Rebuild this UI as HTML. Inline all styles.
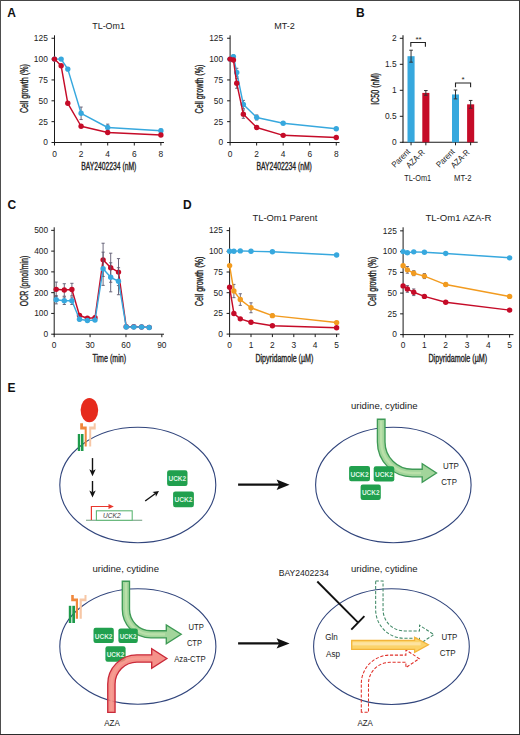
<!DOCTYPE html><html><head><meta charset="utf-8"><style>html,body{margin:0;padding:0;background:#fff;overflow:hidden;width:520px;height:735px;}svg{display:block;}</style></head><body>
<svg width="520" height="735" viewBox="0 0 520 735" style="font-family:'Liberation Sans', sans-serif">
<rect x="0" y="0" width="520" height="735" fill="#fff"/>
<text x="7.30" y="17.30" font-size="12" text-anchor="start" fill="#111" font-weight="bold">A</text>
<text x="356.10" y="17.20" font-size="12" text-anchor="start" fill="#111" font-weight="bold">B</text>
<text x="7.40" y="209.30" font-size="12" text-anchor="start" fill="#111" font-weight="bold">C</text>
<text x="182.90" y="209.20" font-size="12" text-anchor="start" fill="#111" font-weight="bold">D</text>
<text x="7.60" y="391.50" font-size="12" text-anchor="start" fill="#111" font-weight="bold">E</text>
<text x="108.60" y="29.00" font-size="9.4" text-anchor="middle" fill="#222" textLength="32.7" lengthAdjust="spacingAndGlyphs">TL-Om1</text>
<line x1="54.50" y1="35.30" x2="54.50" y2="143.00" stroke="#1a1a1a" stroke-width="1" />
<line x1="54.00" y1="142.50" x2="164.00" y2="142.50" stroke="#1a1a1a" stroke-width="1" />
<line x1="51.50" y1="142.50" x2="54.50" y2="142.50" stroke="#1a1a1a" stroke-width="1" />
<text x="47.80" y="145.39" font-size="8.4" text-anchor="end" fill="#222">0</text>
<line x1="51.50" y1="121.65" x2="54.50" y2="121.65" stroke="#1a1a1a" stroke-width="1" />
<text x="47.80" y="124.54" font-size="8.4" text-anchor="end" fill="#222">25</text>
<line x1="51.50" y1="100.80" x2="54.50" y2="100.80" stroke="#1a1a1a" stroke-width="1" />
<text x="47.80" y="103.69" font-size="8.4" text-anchor="end" fill="#222">50</text>
<line x1="51.50" y1="79.95" x2="54.50" y2="79.95" stroke="#1a1a1a" stroke-width="1" />
<text x="47.80" y="82.84" font-size="8.4" text-anchor="end" fill="#222">75</text>
<line x1="51.50" y1="59.10" x2="54.50" y2="59.10" stroke="#1a1a1a" stroke-width="1" />
<text x="47.80" y="61.99" font-size="8.4" text-anchor="end" fill="#222">100</text>
<line x1="51.50" y1="38.25" x2="54.50" y2="38.25" stroke="#1a1a1a" stroke-width="1" />
<text x="47.80" y="41.14" font-size="8.4" text-anchor="end" fill="#222">125</text>
<line x1="54.50" y1="142.50" x2="54.50" y2="145.50" stroke="#1a1a1a" stroke-width="1" />
<text x="54.50" y="156.59" font-size="8.4" text-anchor="middle" fill="#222">0</text>
<line x1="81.10" y1="142.50" x2="81.10" y2="145.50" stroke="#1a1a1a" stroke-width="1" />
<text x="81.10" y="156.59" font-size="8.4" text-anchor="middle" fill="#222">2</text>
<line x1="107.70" y1="142.50" x2="107.70" y2="145.50" stroke="#1a1a1a" stroke-width="1" />
<text x="107.70" y="156.59" font-size="8.4" text-anchor="middle" fill="#222">4</text>
<line x1="134.30" y1="142.50" x2="134.30" y2="145.50" stroke="#1a1a1a" stroke-width="1" />
<text x="134.30" y="156.59" font-size="8.4" text-anchor="middle" fill="#222">6</text>
<line x1="160.90" y1="142.50" x2="160.90" y2="145.50" stroke="#1a1a1a" stroke-width="1" />
<text x="160.90" y="156.59" font-size="8.4" text-anchor="middle" fill="#222">8</text>
<text transform="translate(27.60,88.60) rotate(-90)" x="0" y="0" font-size="10" text-anchor="middle" fill="#222" stroke="#222" stroke-width="0.35" textLength="49" lengthAdjust="spacingAndGlyphs">Cell growth (%)</text>
<text x="108.75" y="169.50" font-size="10" text-anchor="middle" fill="#222" stroke="#222" stroke-width="0.35" textLength="55.1" lengthAdjust="spacingAndGlyphs">BAY2402234 (nM)</text>
<line x1="67.80" y1="67.44" x2="67.80" y2="70.78" stroke="#5e5a70" stroke-width="0.9" />
<line x1="66.20" y1="67.44" x2="69.40" y2="67.44" stroke="#5e5a70" stroke-width="0.9" />
<line x1="66.20" y1="70.78" x2="69.40" y2="70.78" stroke="#5e5a70" stroke-width="0.9" />
<line x1="81.10" y1="107.06" x2="81.10" y2="119.56" stroke="#5e5a70" stroke-width="0.9" />
<line x1="79.50" y1="107.06" x2="82.70" y2="107.06" stroke="#5e5a70" stroke-width="0.9" />
<line x1="79.50" y1="119.56" x2="82.70" y2="119.56" stroke="#5e5a70" stroke-width="0.9" />
<line x1="107.70" y1="124.15" x2="107.70" y2="130.82" stroke="#5e5a70" stroke-width="0.9" />
<line x1="106.10" y1="124.15" x2="109.30" y2="124.15" stroke="#5e5a70" stroke-width="0.9" />
<line x1="106.10" y1="130.82" x2="109.30" y2="130.82" stroke="#5e5a70" stroke-width="0.9" />
<line x1="160.90" y1="129.16" x2="160.90" y2="132.49" stroke="#5e5a70" stroke-width="0.9" />
<line x1="159.30" y1="129.16" x2="162.50" y2="129.16" stroke="#5e5a70" stroke-width="0.9" />
<line x1="159.30" y1="132.49" x2="162.50" y2="132.49" stroke="#5e5a70" stroke-width="0.9" />
<polyline points="54.50,59.10 61.15,59.10 67.80,69.11 81.10,113.31 107.70,127.49 160.90,130.82" fill="none" stroke="#37a8de" stroke-width="1.45" stroke-linejoin="round"/>
<circle cx="54.50" cy="59.10" r="2.7" fill="#37a8de"/>
<circle cx="61.15" cy="59.10" r="2.7" fill="#37a8de"/>
<circle cx="67.80" cy="69.11" r="2.7" fill="#37a8de"/>
<circle cx="81.10" cy="113.31" r="2.7" fill="#37a8de"/>
<circle cx="107.70" cy="127.49" r="2.7" fill="#37a8de"/>
<circle cx="160.90" cy="130.82" r="2.7" fill="#37a8de"/>
<polyline points="54.50,59.10 61.15,65.77 67.80,103.30 81.10,126.24 107.70,132.49 160.90,134.99" fill="none" stroke="#c50b28" stroke-width="1.45" stroke-linejoin="round"/>
<circle cx="54.50" cy="59.10" r="2.7" fill="#c50b28"/>
<circle cx="61.15" cy="65.77" r="2.7" fill="#c50b28"/>
<circle cx="67.80" cy="103.30" r="2.7" fill="#c50b28"/>
<circle cx="81.10" cy="126.24" r="2.7" fill="#c50b28"/>
<circle cx="107.70" cy="132.49" r="2.7" fill="#c50b28"/>
<circle cx="160.90" cy="134.99" r="2.7" fill="#c50b28"/>
<text x="284.50" y="29.10" font-size="9.4" text-anchor="middle" fill="#222" textLength="20.6" lengthAdjust="spacingAndGlyphs">MT-2</text>
<line x1="230.10" y1="35.30" x2="230.10" y2="143.00" stroke="#1a1a1a" stroke-width="1" />
<line x1="229.60" y1="142.50" x2="339.50" y2="142.50" stroke="#1a1a1a" stroke-width="1" />
<line x1="227.10" y1="142.50" x2="230.10" y2="142.50" stroke="#1a1a1a" stroke-width="1" />
<text x="223.20" y="145.39" font-size="8.4" text-anchor="end" fill="#222">0</text>
<line x1="227.10" y1="121.65" x2="230.10" y2="121.65" stroke="#1a1a1a" stroke-width="1" />
<text x="223.20" y="124.54" font-size="8.4" text-anchor="end" fill="#222">25</text>
<line x1="227.10" y1="100.80" x2="230.10" y2="100.80" stroke="#1a1a1a" stroke-width="1" />
<text x="223.20" y="103.69" font-size="8.4" text-anchor="end" fill="#222">50</text>
<line x1="227.10" y1="79.95" x2="230.10" y2="79.95" stroke="#1a1a1a" stroke-width="1" />
<text x="223.20" y="82.84" font-size="8.4" text-anchor="end" fill="#222">75</text>
<line x1="227.10" y1="59.10" x2="230.10" y2="59.10" stroke="#1a1a1a" stroke-width="1" />
<text x="223.20" y="61.99" font-size="8.4" text-anchor="end" fill="#222">100</text>
<line x1="227.10" y1="38.25" x2="230.10" y2="38.25" stroke="#1a1a1a" stroke-width="1" />
<text x="223.20" y="41.14" font-size="8.4" text-anchor="end" fill="#222">125</text>
<line x1="230.10" y1="142.50" x2="230.10" y2="145.50" stroke="#1a1a1a" stroke-width="1" />
<text x="230.10" y="156.59" font-size="8.4" text-anchor="middle" fill="#222">0</text>
<line x1="256.64" y1="142.50" x2="256.64" y2="145.50" stroke="#1a1a1a" stroke-width="1" />
<text x="256.64" y="156.59" font-size="8.4" text-anchor="middle" fill="#222">2</text>
<line x1="283.18" y1="142.50" x2="283.18" y2="145.50" stroke="#1a1a1a" stroke-width="1" />
<text x="283.18" y="156.59" font-size="8.4" text-anchor="middle" fill="#222">4</text>
<line x1="309.72" y1="142.50" x2="309.72" y2="145.50" stroke="#1a1a1a" stroke-width="1" />
<text x="309.72" y="156.59" font-size="8.4" text-anchor="middle" fill="#222">6</text>
<line x1="336.26" y1="142.50" x2="336.26" y2="145.50" stroke="#1a1a1a" stroke-width="1" />
<text x="336.26" y="156.59" font-size="8.4" text-anchor="middle" fill="#222">8</text>
<text transform="translate(202.70,89.00) rotate(-90)" x="0" y="0" font-size="10" text-anchor="middle" fill="#222" stroke="#222" stroke-width="0.35" textLength="49" lengthAdjust="spacingAndGlyphs">Cell growth (%)</text>
<text x="284.20" y="169.50" font-size="10" text-anchor="middle" fill="#222" stroke="#222" stroke-width="0.35" textLength="55.3" lengthAdjust="spacingAndGlyphs">BAY2402234 (nM)</text>
<line x1="233.42" y1="54.93" x2="233.42" y2="58.27" stroke="#5e5a70" stroke-width="0.9" />
<line x1="231.82" y1="54.93" x2="235.02" y2="54.93" stroke="#5e5a70" stroke-width="0.9" />
<line x1="231.82" y1="58.27" x2="235.02" y2="58.27" stroke="#5e5a70" stroke-width="0.9" />
<line x1="236.73" y1="68.27" x2="236.73" y2="76.61" stroke="#5e5a70" stroke-width="0.9" />
<line x1="235.13" y1="68.27" x2="238.33" y2="68.27" stroke="#5e5a70" stroke-width="0.9" />
<line x1="235.13" y1="76.61" x2="238.33" y2="76.61" stroke="#5e5a70" stroke-width="0.9" />
<line x1="243.37" y1="100.38" x2="243.37" y2="108.72" stroke="#5e5a70" stroke-width="0.9" />
<line x1="241.77" y1="100.38" x2="244.97" y2="100.38" stroke="#5e5a70" stroke-width="0.9" />
<line x1="241.77" y1="108.72" x2="244.97" y2="108.72" stroke="#5e5a70" stroke-width="0.9" />
<line x1="256.64" y1="114.98" x2="256.64" y2="119.98" stroke="#5e5a70" stroke-width="0.9" />
<line x1="255.04" y1="114.98" x2="258.24" y2="114.98" stroke="#5e5a70" stroke-width="0.9" />
<line x1="255.04" y1="119.98" x2="258.24" y2="119.98" stroke="#5e5a70" stroke-width="0.9" />
<line x1="283.18" y1="122.07" x2="283.18" y2="124.57" stroke="#5e5a70" stroke-width="0.9" />
<line x1="281.58" y1="122.07" x2="284.78" y2="122.07" stroke="#5e5a70" stroke-width="0.9" />
<line x1="281.58" y1="124.57" x2="284.78" y2="124.57" stroke="#5e5a70" stroke-width="0.9" />
<line x1="336.26" y1="127.49" x2="336.26" y2="129.99" stroke="#5e5a70" stroke-width="0.9" />
<line x1="334.66" y1="127.49" x2="337.86" y2="127.49" stroke="#5e5a70" stroke-width="0.9" />
<line x1="334.66" y1="129.99" x2="337.86" y2="129.99" stroke="#5e5a70" stroke-width="0.9" />
<polyline points="230.10,59.10 233.42,56.60 236.73,72.44 243.37,104.55 256.64,117.48 283.18,123.32 336.26,128.74" fill="none" stroke="#37a8de" stroke-width="1.45" stroke-linejoin="round"/>
<circle cx="230.10" cy="59.10" r="2.7" fill="#37a8de"/>
<circle cx="233.42" cy="56.60" r="2.7" fill="#37a8de"/>
<circle cx="236.73" cy="72.44" r="2.7" fill="#37a8de"/>
<circle cx="243.37" cy="104.55" r="2.7" fill="#37a8de"/>
<circle cx="256.64" cy="117.48" r="2.7" fill="#37a8de"/>
<circle cx="283.18" cy="123.32" r="2.7" fill="#37a8de"/>
<circle cx="336.26" cy="128.74" r="2.7" fill="#37a8de"/>
<line x1="233.42" y1="58.27" x2="233.42" y2="61.60" stroke="#5e5a70" stroke-width="0.9" />
<line x1="231.82" y1="58.27" x2="235.02" y2="58.27" stroke="#5e5a70" stroke-width="0.9" />
<line x1="231.82" y1="61.60" x2="235.02" y2="61.60" stroke="#5e5a70" stroke-width="0.9" />
<line x1="236.73" y1="78.28" x2="236.73" y2="88.29" stroke="#5e5a70" stroke-width="0.9" />
<line x1="235.13" y1="78.28" x2="238.33" y2="78.28" stroke="#5e5a70" stroke-width="0.9" />
<line x1="235.13" y1="88.29" x2="238.33" y2="88.29" stroke="#5e5a70" stroke-width="0.9" />
<line x1="243.37" y1="109.97" x2="243.37" y2="118.31" stroke="#5e5a70" stroke-width="0.9" />
<line x1="241.77" y1="109.97" x2="244.97" y2="109.97" stroke="#5e5a70" stroke-width="0.9" />
<line x1="241.77" y1="118.31" x2="244.97" y2="118.31" stroke="#5e5a70" stroke-width="0.9" />
<line x1="256.64" y1="125.82" x2="256.64" y2="129.16" stroke="#5e5a70" stroke-width="0.9" />
<line x1="255.04" y1="125.82" x2="258.24" y2="125.82" stroke="#5e5a70" stroke-width="0.9" />
<line x1="255.04" y1="129.16" x2="258.24" y2="129.16" stroke="#5e5a70" stroke-width="0.9" />
<line x1="283.18" y1="134.49" x2="283.18" y2="136.16" stroke="#5e5a70" stroke-width="0.9" />
<line x1="281.58" y1="134.49" x2="284.78" y2="134.49" stroke="#5e5a70" stroke-width="0.9" />
<line x1="281.58" y1="136.16" x2="284.78" y2="136.16" stroke="#5e5a70" stroke-width="0.9" />
<line x1="336.26" y1="136.66" x2="336.26" y2="138.33" stroke="#5e5a70" stroke-width="0.9" />
<line x1="334.66" y1="136.66" x2="337.86" y2="136.66" stroke="#5e5a70" stroke-width="0.9" />
<line x1="334.66" y1="138.33" x2="337.86" y2="138.33" stroke="#5e5a70" stroke-width="0.9" />
<polyline points="230.10,59.10 233.42,59.93 236.73,83.29 243.37,114.14 256.64,127.49 283.18,135.33 336.26,137.50" fill="none" stroke="#c50b28" stroke-width="1.45" stroke-linejoin="round"/>
<circle cx="230.10" cy="59.10" r="2.7" fill="#c50b28"/>
<circle cx="233.42" cy="59.93" r="2.7" fill="#c50b28"/>
<circle cx="236.73" cy="83.29" r="2.7" fill="#c50b28"/>
<circle cx="243.37" cy="114.14" r="2.7" fill="#c50b28"/>
<circle cx="256.64" cy="127.49" r="2.7" fill="#c50b28"/>
<circle cx="283.18" cy="135.33" r="2.7" fill="#c50b28"/>
<circle cx="336.26" cy="137.50" r="2.7" fill="#c50b28"/>
<line x1="403.00" y1="35.30" x2="403.00" y2="142.80" stroke="#1a1a1a" stroke-width="1.1" />
<line x1="402.50" y1="142.30" x2="477.70" y2="142.30" stroke="#1a1a1a" stroke-width="1.1" />
<line x1="399.80" y1="142.30" x2="403.00" y2="142.30" stroke="#1a1a1a" stroke-width="1" />
<text x="396.60" y="145.19" font-size="8.4" text-anchor="end" fill="#222">0</text>
<line x1="399.80" y1="116.30" x2="403.00" y2="116.30" stroke="#1a1a1a" stroke-width="1" />
<text x="396.60" y="119.19" font-size="8.4" text-anchor="end" fill="#222">0.5</text>
<line x1="399.80" y1="90.30" x2="403.00" y2="90.30" stroke="#1a1a1a" stroke-width="1" />
<text x="396.60" y="93.19" font-size="8.4" text-anchor="end" fill="#222">1</text>
<line x1="399.80" y1="64.30" x2="403.00" y2="64.30" stroke="#1a1a1a" stroke-width="1" />
<text x="396.60" y="67.19" font-size="8.4" text-anchor="end" fill="#222">1.5</text>
<line x1="399.80" y1="38.30" x2="403.00" y2="38.30" stroke="#1a1a1a" stroke-width="1" />
<text x="396.60" y="41.19" font-size="8.4" text-anchor="end" fill="#222">2</text>
<rect x="407.5" y="56.19" width="7.10" height="86.11" fill="#37a8de"/>
<line x1="411.05" y1="50.21" x2="411.05" y2="62.17" stroke="#333" stroke-width="1" />
<line x1="409.25" y1="50.21" x2="412.85" y2="50.21" stroke="#333" stroke-width="1" />
<line x1="409.25" y1="62.17" x2="412.85" y2="62.17" stroke="#333" stroke-width="1" />
<line x1="411.05" y1="142.30" x2="411.05" y2="145.30" stroke="#1a1a1a" stroke-width="1" />
<rect x="422.3" y="92.90" width="7.10" height="49.40" fill="#c50b28"/>
<line x1="425.85" y1="90.56" x2="425.85" y2="95.24" stroke="#333" stroke-width="1" />
<line x1="424.05" y1="90.56" x2="427.65" y2="90.56" stroke="#333" stroke-width="1" />
<line x1="424.05" y1="95.24" x2="427.65" y2="95.24" stroke="#333" stroke-width="1" />
<line x1="425.85" y1="142.30" x2="425.85" y2="145.30" stroke="#1a1a1a" stroke-width="1" />
<rect x="452" y="94.46" width="7.00" height="47.84" fill="#37a8de"/>
<line x1="455.50" y1="90.04" x2="455.50" y2="98.88" stroke="#333" stroke-width="1" />
<line x1="453.70" y1="90.04" x2="457.30" y2="90.04" stroke="#333" stroke-width="1" />
<line x1="453.70" y1="98.88" x2="457.30" y2="98.88" stroke="#333" stroke-width="1" />
<line x1="455.50" y1="142.30" x2="455.50" y2="145.30" stroke="#1a1a1a" stroke-width="1" />
<rect x="467.1" y="104.34" width="7.10" height="37.96" fill="#c50b28"/>
<line x1="470.65" y1="100.44" x2="470.65" y2="108.24" stroke="#333" stroke-width="1" />
<line x1="468.85" y1="100.44" x2="472.45" y2="100.44" stroke="#333" stroke-width="1" />
<line x1="468.85" y1="108.24" x2="472.45" y2="108.24" stroke="#333" stroke-width="1" />
<line x1="470.65" y1="142.30" x2="470.65" y2="145.30" stroke="#1a1a1a" stroke-width="1" />
<polyline points="410.8,46.8 410.8,42.5 425.4,42.5 425.4,46.8" fill="none" stroke="#222" stroke-width="1.1"/>
<text x="418.50" y="42.05" font-size="8" text-anchor="middle" fill="#222">**</text>
<polyline points="455.5,87.2 455.5,83 470.6,83 470.6,87.2" fill="none" stroke="#222" stroke-width="1.1"/>
<text x="463.00" y="82.15" font-size="8" text-anchor="middle" fill="#222">*</text>
<text transform="translate(379.20,88.90) rotate(-90)" x="0" y="0" font-size="10" text-anchor="middle" fill="#222" stroke="#222" stroke-width="0.35" textLength="31.8" lengthAdjust="spacingAndGlyphs">IC50 (nM)</text>
<text transform="translate(408.6,150.2) rotate(-45)" x="0" y="2.9" font-size="8.5" text-anchor="end" fill="#222" textLength="22.3" lengthAdjust="spacingAndGlyphs">Parent</text>
<text transform="translate(423.3,150.9) rotate(-45)" x="0" y="2.9" font-size="8.5" text-anchor="end" fill="#222" textLength="22.3" lengthAdjust="spacingAndGlyphs">AZA-R</text>
<text transform="translate(453.1,150.2) rotate(-45)" x="0" y="2.9" font-size="8.5" text-anchor="end" fill="#222" textLength="22.3" lengthAdjust="spacingAndGlyphs">Parent</text>
<text transform="translate(468,150.9) rotate(-45)" x="0" y="2.9" font-size="8.5" text-anchor="end" fill="#222" textLength="22.3" lengthAdjust="spacingAndGlyphs">AZA-R</text>
<text x="417.70" y="180.90" font-size="8.6" text-anchor="middle" fill="#222" textLength="27" lengthAdjust="spacingAndGlyphs">TL-Om1</text>
<text x="462.85" y="180.80" font-size="8.6" text-anchor="middle" fill="#222" textLength="17.5" lengthAdjust="spacingAndGlyphs">MT-2</text>
<line x1="54.20" y1="227.30" x2="54.20" y2="334.70" stroke="#1a1a1a" stroke-width="1" />
<line x1="53.70" y1="334.20" x2="164.00" y2="334.20" stroke="#1a1a1a" stroke-width="1" />
<line x1="51.20" y1="334.20" x2="54.20" y2="334.20" stroke="#1a1a1a" stroke-width="1" />
<text x="48.20" y="337.09" font-size="8.4" text-anchor="end" fill="#222">0</text>
<line x1="51.20" y1="313.43" x2="54.20" y2="313.43" stroke="#1a1a1a" stroke-width="1" />
<text x="48.20" y="316.32" font-size="8.4" text-anchor="end" fill="#222">100</text>
<line x1="51.20" y1="292.66" x2="54.20" y2="292.66" stroke="#1a1a1a" stroke-width="1" />
<text x="48.20" y="295.55" font-size="8.4" text-anchor="end" fill="#222">200</text>
<line x1="51.20" y1="271.89" x2="54.20" y2="271.89" stroke="#1a1a1a" stroke-width="1" />
<text x="48.20" y="274.78" font-size="8.4" text-anchor="end" fill="#222">300</text>
<line x1="51.20" y1="251.12" x2="54.20" y2="251.12" stroke="#1a1a1a" stroke-width="1" />
<text x="48.20" y="254.01" font-size="8.4" text-anchor="end" fill="#222">400</text>
<line x1="51.20" y1="230.35" x2="54.20" y2="230.35" stroke="#1a1a1a" stroke-width="1" />
<text x="48.20" y="233.24" font-size="8.4" text-anchor="end" fill="#222">500</text>
<line x1="54.20" y1="334.20" x2="54.20" y2="337.20" stroke="#1a1a1a" stroke-width="1" />
<text x="54.20" y="347.79" font-size="8.4" text-anchor="middle" fill="#222">0</text>
<line x1="90.08" y1="334.20" x2="90.08" y2="337.20" stroke="#1a1a1a" stroke-width="1" />
<text x="90.08" y="347.79" font-size="8.4" text-anchor="middle" fill="#222">30</text>
<line x1="125.96" y1="334.20" x2="125.96" y2="337.20" stroke="#1a1a1a" stroke-width="1" />
<text x="125.96" y="347.79" font-size="8.4" text-anchor="middle" fill="#222">60</text>
<line x1="161.84" y1="334.20" x2="161.84" y2="337.20" stroke="#1a1a1a" stroke-width="1" />
<text x="161.84" y="347.79" font-size="8.4" text-anchor="middle" fill="#222">90</text>
<text transform="translate(27.80,281.00) rotate(-90)" x="0" y="0" font-size="10" text-anchor="middle" fill="#222" stroke="#222" stroke-width="0.35" textLength="50.6" lengthAdjust="spacingAndGlyphs">OCR (pmol/min)</text>
<text x="109.25" y="362.00" font-size="10" text-anchor="middle" fill="#222" stroke="#222" stroke-width="0.35" textLength="33.5" lengthAdjust="spacingAndGlyphs">Time (min)</text>
<line x1="56.20" y1="282.07" x2="56.20" y2="296.61" stroke="#5e5a70" stroke-width="0.9" />
<line x1="54.60" y1="282.07" x2="57.80" y2="282.07" stroke="#5e5a70" stroke-width="0.9" />
<line x1="54.60" y1="296.61" x2="57.80" y2="296.61" stroke="#5e5a70" stroke-width="0.9" />
<line x1="64.30" y1="283.73" x2="64.30" y2="296.19" stroke="#5e5a70" stroke-width="0.9" />
<line x1="62.70" y1="283.73" x2="65.90" y2="283.73" stroke="#5e5a70" stroke-width="0.9" />
<line x1="62.70" y1="296.19" x2="65.90" y2="296.19" stroke="#5e5a70" stroke-width="0.9" />
<line x1="71.90" y1="283.31" x2="71.90" y2="295.78" stroke="#5e5a70" stroke-width="0.9" />
<line x1="70.30" y1="283.31" x2="73.50" y2="283.31" stroke="#5e5a70" stroke-width="0.9" />
<line x1="70.30" y1="295.78" x2="73.50" y2="295.78" stroke="#5e5a70" stroke-width="0.9" />
<line x1="79.50" y1="313.85" x2="79.50" y2="317.17" stroke="#5e5a70" stroke-width="0.9" />
<line x1="77.90" y1="313.85" x2="81.10" y2="313.85" stroke="#5e5a70" stroke-width="0.9" />
<line x1="77.90" y1="317.17" x2="81.10" y2="317.17" stroke="#5e5a70" stroke-width="0.9" />
<line x1="87.40" y1="317.17" x2="87.40" y2="319.25" stroke="#5e5a70" stroke-width="0.9" />
<line x1="85.80" y1="317.17" x2="89.00" y2="317.17" stroke="#5e5a70" stroke-width="0.9" />
<line x1="85.80" y1="319.25" x2="89.00" y2="319.25" stroke="#5e5a70" stroke-width="0.9" />
<line x1="95.00" y1="316.75" x2="95.00" y2="318.83" stroke="#5e5a70" stroke-width="0.9" />
<line x1="93.40" y1="316.75" x2="96.60" y2="316.75" stroke="#5e5a70" stroke-width="0.9" />
<line x1="93.40" y1="318.83" x2="96.60" y2="318.83" stroke="#5e5a70" stroke-width="0.9" />
<line x1="103.10" y1="243.23" x2="103.10" y2="276.46" stroke="#5e5a70" stroke-width="0.9" />
<line x1="101.50" y1="243.23" x2="104.70" y2="243.23" stroke="#5e5a70" stroke-width="0.9" />
<line x1="101.50" y1="276.46" x2="104.70" y2="276.46" stroke="#5e5a70" stroke-width="0.9" />
<line x1="110.70" y1="253.20" x2="110.70" y2="282.27" stroke="#5e5a70" stroke-width="0.9" />
<line x1="109.10" y1="253.20" x2="112.30" y2="253.20" stroke="#5e5a70" stroke-width="0.9" />
<line x1="109.10" y1="282.27" x2="112.30" y2="282.27" stroke="#5e5a70" stroke-width="0.9" />
<line x1="118.50" y1="258.60" x2="118.50" y2="285.60" stroke="#5e5a70" stroke-width="0.9" />
<line x1="116.90" y1="258.60" x2="120.10" y2="258.60" stroke="#5e5a70" stroke-width="0.9" />
<line x1="116.90" y1="285.60" x2="120.10" y2="285.60" stroke="#5e5a70" stroke-width="0.9" />
<line x1="126.20" y1="325.68" x2="126.20" y2="327.76" stroke="#5e5a70" stroke-width="0.9" />
<line x1="124.60" y1="325.68" x2="127.80" y2="325.68" stroke="#5e5a70" stroke-width="0.9" />
<line x1="124.60" y1="327.76" x2="127.80" y2="327.76" stroke="#5e5a70" stroke-width="0.9" />
<line x1="133.80" y1="325.68" x2="133.80" y2="327.76" stroke="#5e5a70" stroke-width="0.9" />
<line x1="132.20" y1="325.68" x2="135.40" y2="325.68" stroke="#5e5a70" stroke-width="0.9" />
<line x1="132.20" y1="327.76" x2="135.40" y2="327.76" stroke="#5e5a70" stroke-width="0.9" />
<line x1="141.60" y1="325.89" x2="141.60" y2="327.97" stroke="#5e5a70" stroke-width="0.9" />
<line x1="140.00" y1="325.89" x2="143.20" y2="325.89" stroke="#5e5a70" stroke-width="0.9" />
<line x1="140.00" y1="327.97" x2="143.20" y2="327.97" stroke="#5e5a70" stroke-width="0.9" />
<line x1="149.20" y1="326.31" x2="149.20" y2="328.38" stroke="#5e5a70" stroke-width="0.9" />
<line x1="147.60" y1="326.31" x2="150.80" y2="326.31" stroke="#5e5a70" stroke-width="0.9" />
<line x1="147.60" y1="328.38" x2="150.80" y2="328.38" stroke="#5e5a70" stroke-width="0.9" />
<polyline points="56.20,289.34 64.30,289.96 71.90,289.54 79.50,315.51 87.40,318.21 95.00,317.79 103.10,259.84 110.70,267.74 118.50,272.10 126.20,326.72 133.80,326.72 141.60,326.93 149.20,327.35" fill="none" stroke="#c50b28" stroke-width="1.45" stroke-linejoin="round"/>
<circle cx="56.20" cy="289.34" r="2.7" fill="#c50b28"/>
<circle cx="64.30" cy="289.96" r="2.7" fill="#c50b28"/>
<circle cx="71.90" cy="289.54" r="2.7" fill="#c50b28"/>
<circle cx="79.50" cy="315.51" r="2.7" fill="#c50b28"/>
<circle cx="87.40" cy="318.21" r="2.7" fill="#c50b28"/>
<circle cx="95.00" cy="317.79" r="2.7" fill="#c50b28"/>
<circle cx="103.10" cy="259.84" r="2.7" fill="#c50b28"/>
<circle cx="110.70" cy="267.74" r="2.7" fill="#c50b28"/>
<circle cx="118.50" cy="272.10" r="2.7" fill="#c50b28"/>
<circle cx="126.20" cy="326.72" r="2.7" fill="#c50b28"/>
<circle cx="133.80" cy="326.72" r="2.7" fill="#c50b28"/>
<circle cx="141.60" cy="326.93" r="2.7" fill="#c50b28"/>
<circle cx="149.20" cy="327.35" r="2.7" fill="#c50b28"/>
<line x1="56.20" y1="295.57" x2="56.20" y2="303.88" stroke="#5e5a70" stroke-width="0.9" />
<line x1="54.60" y1="295.57" x2="57.80" y2="295.57" stroke="#5e5a70" stroke-width="0.9" />
<line x1="54.60" y1="303.88" x2="57.80" y2="303.88" stroke="#5e5a70" stroke-width="0.9" />
<line x1="64.30" y1="297.02" x2="64.30" y2="304.50" stroke="#5e5a70" stroke-width="0.9" />
<line x1="62.70" y1="297.02" x2="65.90" y2="297.02" stroke="#5e5a70" stroke-width="0.9" />
<line x1="62.70" y1="304.50" x2="65.90" y2="304.50" stroke="#5e5a70" stroke-width="0.9" />
<line x1="71.90" y1="297.02" x2="71.90" y2="304.50" stroke="#5e5a70" stroke-width="0.9" />
<line x1="70.30" y1="297.02" x2="73.50" y2="297.02" stroke="#5e5a70" stroke-width="0.9" />
<line x1="70.30" y1="304.50" x2="73.50" y2="304.50" stroke="#5e5a70" stroke-width="0.9" />
<line x1="79.50" y1="317.58" x2="79.50" y2="320.91" stroke="#5e5a70" stroke-width="0.9" />
<line x1="77.90" y1="317.58" x2="81.10" y2="317.58" stroke="#5e5a70" stroke-width="0.9" />
<line x1="77.90" y1="320.91" x2="81.10" y2="320.91" stroke="#5e5a70" stroke-width="0.9" />
<line x1="87.40" y1="319.45" x2="87.40" y2="321.53" stroke="#5e5a70" stroke-width="0.9" />
<line x1="85.80" y1="319.45" x2="89.00" y2="319.45" stroke="#5e5a70" stroke-width="0.9" />
<line x1="85.80" y1="321.53" x2="89.00" y2="321.53" stroke="#5e5a70" stroke-width="0.9" />
<line x1="95.00" y1="319.04" x2="95.00" y2="321.11" stroke="#5e5a70" stroke-width="0.9" />
<line x1="93.40" y1="319.04" x2="96.60" y2="319.04" stroke="#5e5a70" stroke-width="0.9" />
<line x1="93.40" y1="321.11" x2="96.60" y2="321.11" stroke="#5e5a70" stroke-width="0.9" />
<line x1="103.10" y1="252.16" x2="103.10" y2="285.39" stroke="#5e5a70" stroke-width="0.9" />
<line x1="101.50" y1="252.16" x2="104.70" y2="252.16" stroke="#5e5a70" stroke-width="0.9" />
<line x1="101.50" y1="285.39" x2="104.70" y2="285.39" stroke="#5e5a70" stroke-width="0.9" />
<line x1="110.70" y1="262.75" x2="110.70" y2="291.83" stroke="#5e5a70" stroke-width="0.9" />
<line x1="109.10" y1="262.75" x2="112.30" y2="262.75" stroke="#5e5a70" stroke-width="0.9" />
<line x1="109.10" y1="291.83" x2="112.30" y2="291.83" stroke="#5e5a70" stroke-width="0.9" />
<line x1="118.50" y1="267.74" x2="118.50" y2="294.74" stroke="#5e5a70" stroke-width="0.9" />
<line x1="116.90" y1="267.74" x2="120.10" y2="267.74" stroke="#5e5a70" stroke-width="0.9" />
<line x1="116.90" y1="294.74" x2="120.10" y2="294.74" stroke="#5e5a70" stroke-width="0.9" />
<line x1="126.20" y1="325.89" x2="126.20" y2="327.97" stroke="#5e5a70" stroke-width="0.9" />
<line x1="124.60" y1="325.89" x2="127.80" y2="325.89" stroke="#5e5a70" stroke-width="0.9" />
<line x1="124.60" y1="327.97" x2="127.80" y2="327.97" stroke="#5e5a70" stroke-width="0.9" />
<line x1="133.80" y1="325.89" x2="133.80" y2="327.97" stroke="#5e5a70" stroke-width="0.9" />
<line x1="132.20" y1="325.89" x2="135.40" y2="325.89" stroke="#5e5a70" stroke-width="0.9" />
<line x1="132.20" y1="327.97" x2="135.40" y2="327.97" stroke="#5e5a70" stroke-width="0.9" />
<line x1="141.60" y1="325.89" x2="141.60" y2="327.97" stroke="#5e5a70" stroke-width="0.9" />
<line x1="140.00" y1="325.89" x2="143.20" y2="325.89" stroke="#5e5a70" stroke-width="0.9" />
<line x1="140.00" y1="327.97" x2="143.20" y2="327.97" stroke="#5e5a70" stroke-width="0.9" />
<line x1="149.20" y1="326.52" x2="149.20" y2="328.59" stroke="#5e5a70" stroke-width="0.9" />
<line x1="147.60" y1="326.52" x2="150.80" y2="326.52" stroke="#5e5a70" stroke-width="0.9" />
<line x1="147.60" y1="328.59" x2="150.80" y2="328.59" stroke="#5e5a70" stroke-width="0.9" />
<polyline points="56.20,299.72 64.30,300.76 71.90,300.76 79.50,319.25 87.40,320.49 95.00,320.08 103.10,268.77 110.70,277.29 118.50,281.24 126.20,326.93 133.80,326.93 141.60,326.93 149.20,327.55" fill="none" stroke="#37a8de" stroke-width="1.45" stroke-linejoin="round"/>
<circle cx="56.20" cy="299.72" r="2.7" fill="#37a8de"/>
<circle cx="64.30" cy="300.76" r="2.7" fill="#37a8de"/>
<circle cx="71.90" cy="300.76" r="2.7" fill="#37a8de"/>
<circle cx="79.50" cy="319.25" r="2.7" fill="#37a8de"/>
<circle cx="87.40" cy="320.49" r="2.7" fill="#37a8de"/>
<circle cx="95.00" cy="320.08" r="2.7" fill="#37a8de"/>
<circle cx="103.10" cy="268.77" r="2.7" fill="#37a8de"/>
<circle cx="110.70" cy="277.29" r="2.7" fill="#37a8de"/>
<circle cx="118.50" cy="281.24" r="2.7" fill="#37a8de"/>
<circle cx="126.20" cy="326.93" r="2.7" fill="#37a8de"/>
<circle cx="133.80" cy="326.93" r="2.7" fill="#37a8de"/>
<circle cx="141.60" cy="326.93" r="2.7" fill="#37a8de"/>
<circle cx="149.20" cy="327.55" r="2.7" fill="#37a8de"/>
<text x="284.85" y="221.00" font-size="9.6" text-anchor="middle" fill="#222" textLength="64.9" lengthAdjust="spacingAndGlyphs">TL-Om1 Parent</text>
<line x1="229.60" y1="227.30" x2="229.60" y2="334.60" stroke="#1a1a1a" stroke-width="1" />
<line x1="229.10" y1="334.10" x2="339.50" y2="334.10" stroke="#1a1a1a" stroke-width="1" />
<line x1="226.60" y1="334.10" x2="229.60" y2="334.10" stroke="#1a1a1a" stroke-width="1" />
<text x="222.90" y="336.99" font-size="8.4" text-anchor="end" fill="#222">0</text>
<line x1="226.60" y1="313.40" x2="229.60" y2="313.40" stroke="#1a1a1a" stroke-width="1" />
<text x="222.90" y="316.29" font-size="8.4" text-anchor="end" fill="#222">25</text>
<line x1="226.60" y1="292.70" x2="229.60" y2="292.70" stroke="#1a1a1a" stroke-width="1" />
<text x="222.90" y="295.59" font-size="8.4" text-anchor="end" fill="#222">50</text>
<line x1="226.60" y1="272.00" x2="229.60" y2="272.00" stroke="#1a1a1a" stroke-width="1" />
<text x="222.90" y="274.89" font-size="8.4" text-anchor="end" fill="#222">75</text>
<line x1="226.60" y1="251.30" x2="229.60" y2="251.30" stroke="#1a1a1a" stroke-width="1" />
<text x="222.90" y="254.19" font-size="8.4" text-anchor="end" fill="#222">100</text>
<line x1="226.60" y1="230.60" x2="229.60" y2="230.60" stroke="#1a1a1a" stroke-width="1" />
<text x="222.90" y="233.49" font-size="8.4" text-anchor="end" fill="#222">125</text>
<line x1="229.60" y1="334.10" x2="229.60" y2="337.10" stroke="#1a1a1a" stroke-width="1" />
<text x="229.60" y="347.79" font-size="8.4" text-anchor="middle" fill="#222">0</text>
<line x1="251.00" y1="334.10" x2="251.00" y2="337.10" stroke="#1a1a1a" stroke-width="1" />
<text x="251.00" y="347.79" font-size="8.4" text-anchor="middle" fill="#222">1</text>
<line x1="272.40" y1="334.10" x2="272.40" y2="337.10" stroke="#1a1a1a" stroke-width="1" />
<text x="272.40" y="347.79" font-size="8.4" text-anchor="middle" fill="#222">2</text>
<line x1="293.80" y1="334.10" x2="293.80" y2="337.10" stroke="#1a1a1a" stroke-width="1" />
<text x="293.80" y="347.79" font-size="8.4" text-anchor="middle" fill="#222">3</text>
<line x1="315.20" y1="334.10" x2="315.20" y2="337.10" stroke="#1a1a1a" stroke-width="1" />
<text x="315.20" y="347.79" font-size="8.4" text-anchor="middle" fill="#222">4</text>
<line x1="336.60" y1="334.10" x2="336.60" y2="337.10" stroke="#1a1a1a" stroke-width="1" />
<text x="336.60" y="347.79" font-size="8.4" text-anchor="middle" fill="#222">5</text>
<text transform="translate(202.80,281.40) rotate(-90)" x="0" y="0" font-size="10" text-anchor="middle" fill="#222" stroke="#222" stroke-width="0.35" textLength="49.8" lengthAdjust="spacingAndGlyphs">Cell growth (%)</text>
<text x="284.35" y="362.10" font-size="10" text-anchor="middle" fill="#222" stroke="#222" stroke-width="0.35" textLength="57.9" lengthAdjust="spacingAndGlyphs">Dipyridamole (µM)</text>
<polyline points="229.60,251.30 233.88,251.30 240.30,250.89 251.00,251.30 272.40,251.71 336.60,255.03" fill="none" stroke="#37a8de" stroke-width="1.45" stroke-linejoin="round"/>
<circle cx="229.60" cy="251.30" r="2.7" fill="#37a8de"/>
<circle cx="233.88" cy="251.30" r="2.7" fill="#37a8de"/>
<circle cx="240.30" cy="250.89" r="2.7" fill="#37a8de"/>
<circle cx="251.00" cy="251.30" r="2.7" fill="#37a8de"/>
<circle cx="272.40" cy="251.71" r="2.7" fill="#37a8de"/>
<circle cx="336.60" cy="255.03" r="2.7" fill="#37a8de"/>
<line x1="233.88" y1="284.42" x2="233.88" y2="297.67" stroke="#5e5a70" stroke-width="0.9" />
<line x1="232.28" y1="284.42" x2="235.48" y2="284.42" stroke="#5e5a70" stroke-width="0.9" />
<line x1="232.28" y1="297.67" x2="235.48" y2="297.67" stroke="#5e5a70" stroke-width="0.9" />
<line x1="240.30" y1="293.78" x2="240.30" y2="305.37" stroke="#5e5a70" stroke-width="0.9" />
<line x1="238.70" y1="293.78" x2="241.90" y2="293.78" stroke="#5e5a70" stroke-width="0.9" />
<line x1="238.70" y1="305.37" x2="241.90" y2="305.37" stroke="#5e5a70" stroke-width="0.9" />
<line x1="251.00" y1="302.80" x2="251.00" y2="312.74" stroke="#5e5a70" stroke-width="0.9" />
<line x1="249.40" y1="302.80" x2="252.60" y2="302.80" stroke="#5e5a70" stroke-width="0.9" />
<line x1="249.40" y1="312.74" x2="252.60" y2="312.74" stroke="#5e5a70" stroke-width="0.9" />
<line x1="272.40" y1="313.98" x2="272.40" y2="317.29" stroke="#5e5a70" stroke-width="0.9" />
<line x1="270.80" y1="313.98" x2="274.00" y2="313.98" stroke="#5e5a70" stroke-width="0.9" />
<line x1="270.80" y1="317.29" x2="274.00" y2="317.29" stroke="#5e5a70" stroke-width="0.9" />
<line x1="336.60" y1="321.35" x2="336.60" y2="323.83" stroke="#5e5a70" stroke-width="0.9" />
<line x1="335.00" y1="321.35" x2="338.20" y2="321.35" stroke="#5e5a70" stroke-width="0.9" />
<line x1="335.00" y1="323.83" x2="338.20" y2="323.83" stroke="#5e5a70" stroke-width="0.9" />
<polyline points="229.60,265.62 233.88,291.04 240.30,299.57 251.00,307.77 272.40,315.64 336.60,322.59" fill="none" stroke="#f29b1f" stroke-width="1.45" stroke-linejoin="round"/>
<circle cx="229.60" cy="265.62" r="2.7" fill="#f29b1f"/>
<circle cx="233.88" cy="291.04" r="2.7" fill="#f29b1f"/>
<circle cx="240.30" cy="299.57" r="2.7" fill="#f29b1f"/>
<circle cx="251.00" cy="307.77" r="2.7" fill="#f29b1f"/>
<circle cx="272.40" cy="315.64" r="2.7" fill="#f29b1f"/>
<circle cx="336.60" cy="322.59" r="2.7" fill="#f29b1f"/>
<line x1="240.30" y1="318.04" x2="240.30" y2="319.69" stroke="#5e5a70" stroke-width="0.9" />
<line x1="238.70" y1="318.04" x2="241.90" y2="318.04" stroke="#5e5a70" stroke-width="0.9" />
<line x1="238.70" y1="319.69" x2="241.90" y2="319.69" stroke="#5e5a70" stroke-width="0.9" />
<line x1="251.00" y1="321.43" x2="251.00" y2="323.09" stroke="#5e5a70" stroke-width="0.9" />
<line x1="249.40" y1="321.43" x2="252.60" y2="321.43" stroke="#5e5a70" stroke-width="0.9" />
<line x1="249.40" y1="323.09" x2="252.60" y2="323.09" stroke="#5e5a70" stroke-width="0.9" />
<line x1="272.40" y1="324.99" x2="272.40" y2="326.65" stroke="#5e5a70" stroke-width="0.9" />
<line x1="270.80" y1="324.99" x2="274.00" y2="324.99" stroke="#5e5a70" stroke-width="0.9" />
<line x1="270.80" y1="326.65" x2="274.00" y2="326.65" stroke="#5e5a70" stroke-width="0.9" />
<line x1="336.60" y1="326.98" x2="336.60" y2="328.64" stroke="#5e5a70" stroke-width="0.9" />
<line x1="335.00" y1="326.98" x2="338.20" y2="326.98" stroke="#5e5a70" stroke-width="0.9" />
<line x1="335.00" y1="328.64" x2="338.20" y2="328.64" stroke="#5e5a70" stroke-width="0.9" />
<polyline points="229.60,287.32 233.88,313.48 240.30,318.86 251.00,322.26 272.40,325.82 336.60,327.81" fill="none" stroke="#c50b28" stroke-width="1.45" stroke-linejoin="round"/>
<circle cx="229.60" cy="287.32" r="2.7" fill="#c50b28"/>
<circle cx="233.88" cy="313.48" r="2.7" fill="#c50b28"/>
<circle cx="240.30" cy="318.86" r="2.7" fill="#c50b28"/>
<circle cx="251.00" cy="322.26" r="2.7" fill="#c50b28"/>
<circle cx="272.40" cy="325.82" r="2.7" fill="#c50b28"/>
<circle cx="336.60" cy="327.81" r="2.7" fill="#c50b28"/>
<text x="458.45" y="221.00" font-size="9.6" text-anchor="middle" fill="#222" textLength="66.1" lengthAdjust="spacingAndGlyphs">TL-Om1 AZA-R</text>
<line x1="403.10" y1="227.30" x2="403.10" y2="335.10" stroke="#1a1a1a" stroke-width="1" />
<line x1="402.60" y1="334.60" x2="513.50" y2="334.60" stroke="#1a1a1a" stroke-width="1" />
<line x1="400.10" y1="334.60" x2="403.10" y2="334.60" stroke="#1a1a1a" stroke-width="1" />
<text x="396.80" y="337.49" font-size="8.4" text-anchor="end" fill="#222">0</text>
<line x1="400.10" y1="313.85" x2="403.10" y2="313.85" stroke="#1a1a1a" stroke-width="1" />
<text x="396.80" y="316.74" font-size="8.4" text-anchor="end" fill="#222">25</text>
<line x1="400.10" y1="293.10" x2="403.10" y2="293.10" stroke="#1a1a1a" stroke-width="1" />
<text x="396.80" y="295.99" font-size="8.4" text-anchor="end" fill="#222">50</text>
<line x1="400.10" y1="272.35" x2="403.10" y2="272.35" stroke="#1a1a1a" stroke-width="1" />
<text x="396.80" y="275.24" font-size="8.4" text-anchor="end" fill="#222">75</text>
<line x1="400.10" y1="251.60" x2="403.10" y2="251.60" stroke="#1a1a1a" stroke-width="1" />
<text x="396.80" y="254.49" font-size="8.4" text-anchor="end" fill="#222">100</text>
<line x1="400.10" y1="230.85" x2="403.10" y2="230.85" stroke="#1a1a1a" stroke-width="1" />
<text x="396.80" y="233.74" font-size="8.4" text-anchor="end" fill="#222">125</text>
<line x1="403.10" y1="334.60" x2="403.10" y2="337.60" stroke="#1a1a1a" stroke-width="1" />
<text x="403.10" y="347.79" font-size="8.4" text-anchor="middle" fill="#222">0</text>
<line x1="424.40" y1="334.60" x2="424.40" y2="337.60" stroke="#1a1a1a" stroke-width="1" />
<text x="424.40" y="347.79" font-size="8.4" text-anchor="middle" fill="#222">1</text>
<line x1="445.70" y1="334.60" x2="445.70" y2="337.60" stroke="#1a1a1a" stroke-width="1" />
<text x="445.70" y="347.79" font-size="8.4" text-anchor="middle" fill="#222">2</text>
<line x1="467.00" y1="334.60" x2="467.00" y2="337.60" stroke="#1a1a1a" stroke-width="1" />
<text x="467.00" y="347.79" font-size="8.4" text-anchor="middle" fill="#222">3</text>
<line x1="488.30" y1="334.60" x2="488.30" y2="337.60" stroke="#1a1a1a" stroke-width="1" />
<text x="488.30" y="347.79" font-size="8.4" text-anchor="middle" fill="#222">4</text>
<line x1="509.60" y1="334.60" x2="509.60" y2="337.60" stroke="#1a1a1a" stroke-width="1" />
<text x="509.60" y="347.79" font-size="8.4" text-anchor="middle" fill="#222">5</text>
<text transform="translate(376.00,281.60) rotate(-90)" x="0" y="0" font-size="10" text-anchor="middle" fill="#222" stroke="#222" stroke-width="0.35" textLength="49.4" lengthAdjust="spacingAndGlyphs">Cell growth (%)</text>
<text x="457.80" y="362.10" font-size="10" text-anchor="middle" fill="#222" stroke="#222" stroke-width="0.35" textLength="58.8" lengthAdjust="spacingAndGlyphs">Dipyridamole (µM)</text>
<polyline points="403.10,251.60 407.36,252.68 413.75,251.85 424.40,252.18 445.70,253.43 509.60,257.83" fill="none" stroke="#37a8de" stroke-width="1.45" stroke-linejoin="round"/>
<circle cx="403.10" cy="251.60" r="2.7" fill="#37a8de"/>
<circle cx="407.36" cy="252.68" r="2.7" fill="#37a8de"/>
<circle cx="413.75" cy="251.85" r="2.7" fill="#37a8de"/>
<circle cx="424.40" cy="252.18" r="2.7" fill="#37a8de"/>
<circle cx="445.70" cy="253.43" r="2.7" fill="#37a8de"/>
<circle cx="509.60" cy="257.83" r="2.7" fill="#37a8de"/>
<line x1="407.36" y1="266.54" x2="407.36" y2="273.18" stroke="#5e5a70" stroke-width="0.9" />
<line x1="405.76" y1="266.54" x2="408.96" y2="266.54" stroke="#5e5a70" stroke-width="0.9" />
<line x1="405.76" y1="273.18" x2="408.96" y2="273.18" stroke="#5e5a70" stroke-width="0.9" />
<line x1="413.75" y1="270.69" x2="413.75" y2="275.67" stroke="#5e5a70" stroke-width="0.9" />
<line x1="412.15" y1="270.69" x2="415.35" y2="270.69" stroke="#5e5a70" stroke-width="0.9" />
<line x1="412.15" y1="275.67" x2="415.35" y2="275.67" stroke="#5e5a70" stroke-width="0.9" />
<line x1="424.40" y1="273.60" x2="424.40" y2="278.58" stroke="#5e5a70" stroke-width="0.9" />
<line x1="422.80" y1="273.60" x2="426.00" y2="273.60" stroke="#5e5a70" stroke-width="0.9" />
<line x1="422.80" y1="278.58" x2="426.00" y2="278.58" stroke="#5e5a70" stroke-width="0.9" />
<line x1="445.70" y1="282.89" x2="445.70" y2="286.21" stroke="#5e5a70" stroke-width="0.9" />
<line x1="444.10" y1="282.89" x2="447.30" y2="282.89" stroke="#5e5a70" stroke-width="0.9" />
<line x1="444.10" y1="286.21" x2="447.30" y2="286.21" stroke="#5e5a70" stroke-width="0.9" />
<line x1="509.60" y1="295.59" x2="509.60" y2="297.25" stroke="#5e5a70" stroke-width="0.9" />
<line x1="508.00" y1="295.59" x2="511.20" y2="295.59" stroke="#5e5a70" stroke-width="0.9" />
<line x1="508.00" y1="297.25" x2="511.20" y2="297.25" stroke="#5e5a70" stroke-width="0.9" />
<polyline points="403.10,265.71 407.36,269.86 413.75,273.18 424.40,276.09 445.70,284.55 509.60,296.42" fill="none" stroke="#f29b1f" stroke-width="1.45" stroke-linejoin="round"/>
<circle cx="403.10" cy="265.71" r="2.7" fill="#f29b1f"/>
<circle cx="407.36" cy="269.86" r="2.7" fill="#f29b1f"/>
<circle cx="413.75" cy="273.18" r="2.7" fill="#f29b1f"/>
<circle cx="424.40" cy="276.09" r="2.7" fill="#f29b1f"/>
<circle cx="445.70" cy="284.55" r="2.7" fill="#f29b1f"/>
<circle cx="509.60" cy="296.42" r="2.7" fill="#f29b1f"/>
<line x1="407.36" y1="285.63" x2="407.36" y2="292.27" stroke="#5e5a70" stroke-width="0.9" />
<line x1="405.76" y1="285.63" x2="408.96" y2="285.63" stroke="#5e5a70" stroke-width="0.9" />
<line x1="405.76" y1="292.27" x2="408.96" y2="292.27" stroke="#5e5a70" stroke-width="0.9" />
<line x1="413.75" y1="288.95" x2="413.75" y2="295.59" stroke="#5e5a70" stroke-width="0.9" />
<line x1="412.15" y1="288.95" x2="415.35" y2="288.95" stroke="#5e5a70" stroke-width="0.9" />
<line x1="412.15" y1="295.59" x2="415.35" y2="295.59" stroke="#5e5a70" stroke-width="0.9" />
<line x1="424.40" y1="294.76" x2="424.40" y2="298.08" stroke="#5e5a70" stroke-width="0.9" />
<line x1="422.80" y1="294.76" x2="426.00" y2="294.76" stroke="#5e5a70" stroke-width="0.9" />
<line x1="422.80" y1="298.08" x2="426.00" y2="298.08" stroke="#5e5a70" stroke-width="0.9" />
<line x1="445.70" y1="301.40" x2="445.70" y2="303.06" stroke="#5e5a70" stroke-width="0.9" />
<line x1="444.10" y1="301.40" x2="447.30" y2="301.40" stroke="#5e5a70" stroke-width="0.9" />
<line x1="444.10" y1="303.06" x2="447.30" y2="303.06" stroke="#5e5a70" stroke-width="0.9" />
<line x1="509.60" y1="309.29" x2="509.60" y2="310.95" stroke="#5e5a70" stroke-width="0.9" />
<line x1="508.00" y1="309.29" x2="511.20" y2="309.29" stroke="#5e5a70" stroke-width="0.9" />
<line x1="508.00" y1="310.95" x2="511.20" y2="310.95" stroke="#5e5a70" stroke-width="0.9" />
<polyline points="403.10,285.88 407.36,288.95 413.75,292.27 424.40,296.42 445.70,302.23 509.60,310.12" fill="none" stroke="#c50b28" stroke-width="1.45" stroke-linejoin="round"/>
<circle cx="403.10" cy="285.88" r="2.7" fill="#c50b28"/>
<circle cx="407.36" cy="288.95" r="2.7" fill="#c50b28"/>
<circle cx="413.75" cy="292.27" r="2.7" fill="#c50b28"/>
<circle cx="424.40" cy="296.42" r="2.7" fill="#c50b28"/>
<circle cx="445.70" cy="302.23" r="2.7" fill="#c50b28"/>
<circle cx="509.60" cy="310.12" r="2.7" fill="#c50b28"/>
<ellipse cx="137.8" cy="485" rx="78" ry="57.7" fill="none" stroke="#31457c" stroke-width="1.1"/>
<ellipse cx="393.35" cy="485" rx="77.75" ry="57.7" fill="none" stroke="#31457c" stroke-width="1.1"/>
<ellipse cx="137.85" cy="646.5" rx="78.05" ry="57.7" fill="none" stroke="#31457c" stroke-width="1.1"/>
<ellipse cx="391.45" cy="646.6" rx="77.85" ry="57.9" fill="none" stroke="#31457c" stroke-width="1.1"/>
<line x1="238.1" y1="484.7" x2="281.6" y2="484.7" stroke="#111" stroke-width="2.2"/>
<path d="M289.6,484.7 L276.6,479.5 L279.1,484.7 L276.6,489.9 Z" fill="#111"/>
<line x1="238.1" y1="643.4" x2="281.6" y2="643.4" stroke="#111" stroke-width="2.2"/>
<path d="M289.6,643.4 L276.6,638.1999999999999 L279.1,643.4 L276.6,648.6 Z" fill="#111"/>
<ellipse cx="89.4" cy="410.1" rx="8.8" ry="12.2" fill="#e62b1d"/>
<path d="M80.2,423.2 h2.8 v3.2 h3.7 v20 h-2 v-17 h-4.5 z" fill="#f0883c"/>
<path d="M95.7,423.2 h-2 v3.2 h-4.5 v20 h2 v-17 h4.5 z" fill="#f7c7a6"/>
<rect x="77.8" y="434" width="2.4" height="17" fill="#1e9a4b"/><rect x="81" y="434" width="2.5" height="17" fill="#1e9a4b"/>
<line x1="92.5" y1="458.1" x2="92.50" y2="471.20" stroke="#111" stroke-width="1.4"/>
<path d="M92.50,476.20 L89.30,469.20 L92.50,470.95 L95.70,469.20 Z" fill="#111"/>
<line x1="92.5" y1="481" x2="92.50" y2="492.40" stroke="#111" stroke-width="1.4"/>
<path d="M92.50,497.40 L89.30,490.40 L92.50,492.15 L95.70,490.40 Z" fill="#111"/>
<line x1="86.00" y1="520.30" x2="142.20" y2="520.30" stroke="#6c9c7c" stroke-width="1.1" />
<rect x="96.4" y="510.8" width="35.8" height="9.5" fill="#fff" stroke="#5fb775" stroke-width="1.1"/>
<text x="111.80" y="518.38" font-size="7.5" text-anchor="middle" fill="#3a3a3a" font-style="italic" textLength="17.5" lengthAdjust="spacingAndGlyphs">UCK2</text>
<polyline points="91.4,520 91.4,506.5 109,506.5" fill="none" stroke="#e8382e" stroke-width="1.2"/>
<path d="M113.8,506.5 L108.5,504 L108.5,509 Z" fill="#e8382e"/>
<line x1="145.2" y1="501" x2="155.77" y2="493.26" stroke="#111" stroke-width="1.4"/>
<path d="M159.00,490.90 L155.93,496.86 L155.37,493.56 L152.39,492.02 Z" fill="#111"/>
<rect x="167.1" y="470.2" width="20.40" height="15.80" rx="2.2" fill="#21a04e"/>
<text x="177.30" y="481.21" font-size="7.6" text-anchor="middle" fill="#dff5e4" font-weight="bold" textLength="17.7" lengthAdjust="spacingAndGlyphs">UCK2</text>
<rect x="173.1" y="491.4" width="20.80" height="15.90" rx="2.2" fill="#21a04e"/>
<text x="183.50" y="502.46" font-size="7.6" text-anchor="middle" fill="#dff5e4" font-weight="bold" textLength="18.1" lengthAdjust="spacingAndGlyphs">UCK2</text>
<path d="M377.40,419.20 L385.00,419.20 L385.00,442.00 A27.20,27.20 0 0 0 412.20,469.20 L422.20,469.20 L422.20,463.70 L436.50,473.00 L422.20,482.30 L422.20,476.80 L412.20,476.80 A34.80,34.80 0 0 1 377.40,442.00 Z" fill="#a2d59b" fill-opacity="1" stroke="#3f9a56" stroke-width="1.35" stroke-linejoin="miter"/>
<path d="M381.20,420.70 L381.20,442.00 A31,31 0 0 0 412.20,473.00 L421.00,473.00" fill="none" stroke="#bfe2ad" stroke-width="2.4" stroke-opacity="0.8"/>
<text x="384.30" y="408.70" font-size="9" text-anchor="middle" fill="#222" textLength="66.8" lengthAdjust="spacingAndGlyphs">uridine, cytidine</text>
<text x="450.85" y="469.20" font-size="8.4" text-anchor="middle" fill="#222" textLength="15.9" lengthAdjust="spacingAndGlyphs">UTP</text>
<text x="449.05" y="485.40" font-size="8.4" text-anchor="middle" fill="#222" textLength="15.7" lengthAdjust="spacingAndGlyphs">CTP</text>
<rect x="349.1" y="465.9" width="20.90" height="15.30" rx="2.2" fill="#21a04e"/>
<text x="359.55" y="476.66" font-size="7.6" text-anchor="middle" fill="#dff5e4" font-weight="bold" textLength="18.2" lengthAdjust="spacingAndGlyphs">UCK2</text>
<rect x="373.7" y="466.2" width="20.60" height="15.30" rx="2.2" fill="#21a04e"/>
<text x="384.00" y="476.96" font-size="7.6" text-anchor="middle" fill="#dff5e4" font-weight="bold" textLength="17.9" lengthAdjust="spacingAndGlyphs">UCK2</text>
<rect x="360.6" y="484.6" width="20.20" height="15.40" rx="2.2" fill="#21a04e"/>
<text x="370.70" y="495.41" font-size="7.6" text-anchor="middle" fill="#dff5e4" font-weight="bold" textLength="17.6" lengthAdjust="spacingAndGlyphs">UCK2</text>
<path d="M122.30,581.20 L129.50,581.20 L129.50,609.30 A21.40,21.40 0 0 0 150.90,630.70 L166.30,630.70 L166.30,624.90 L181.20,634.30 L166.30,643.70 L166.30,637.90 L150.90,637.90 A28.60,28.60 0 0 1 122.30,609.30 Z" fill="#a2d59b" fill-opacity="1" stroke="#3f9a56" stroke-width="1.35" stroke-linejoin="miter"/>
<path d="M125.90,582.70 L125.90,609.30 A25,25 0 0 0 150.90,634.30 L165.00,634.30" fill="none" stroke="#bfe2ad" stroke-width="2.2" stroke-opacity="0.8"/>
<text x="125.70" y="571.80" font-size="9" text-anchor="middle" fill="#222" textLength="66.6" lengthAdjust="spacingAndGlyphs">uridine, cytidine</text>
<rect x="93.5" y="627.8" width="20.30" height="15.20" rx="2.2" fill="#21a04e"/>
<text x="103.65" y="638.51" font-size="7.6" text-anchor="middle" fill="#dff5e4" font-weight="bold" textLength="17.7" lengthAdjust="spacingAndGlyphs">UCK2</text>
<rect x="118.4" y="628.4" width="19.40" height="14.50" rx="2.2" fill="#21a04e"/>
<text x="128.10" y="638.76" font-size="7.6" text-anchor="middle" fill="#dff5e4" font-weight="bold" textLength="16.9" lengthAdjust="spacingAndGlyphs">UCK2</text>
<rect x="105.4" y="646.3" width="20.20" height="15.50" rx="2.2" fill="#21a04e"/>
<text x="115.50" y="657.16" font-size="7.6" text-anchor="middle" fill="#dff5e4" font-weight="bold" textLength="17.6" lengthAdjust="spacingAndGlyphs">UCK2</text>
<path d="M107.75,712.30 L107.75,684.00 A29.15,29.15 0 0 1 136.90,654.85 L151.70,654.85 L151.70,648.80 L166.90,658.50 L151.70,668.20 L151.70,662.15 L136.90,662.15 A21.85,21.85 0 0 0 115.05,684.00 L115.05,712.30 Z" fill="#f4837a" fill-opacity="0.88" stroke="#c92a3a" stroke-width="1.35" stroke-linejoin="miter"/>
<path d="M111.40,710.80 L111.40,684.00 A25.5,25.5 0 0 1 136.90,658.50 L150.50,658.50" fill="none" stroke="#f7a093" stroke-width="2.2" stroke-opacity="0.8"/>
<text x="196.15" y="629.90" font-size="8.3" text-anchor="middle" fill="#222" textLength="15.3" lengthAdjust="spacingAndGlyphs">UTP</text>
<text x="194.40" y="646.10" font-size="8.3" text-anchor="middle" fill="#222" textLength="15.0" lengthAdjust="spacingAndGlyphs">CTP</text>
<text x="174.20" y="661.50" font-size="8.3" text-anchor="start" fill="#222" textLength="31.4" lengthAdjust="spacingAndGlyphs">Aza-CTP</text>
<text x="112.00" y="725.92" font-size="8.5" text-anchor="middle" fill="#222" textLength="15.6" lengthAdjust="spacingAndGlyphs">AZA</text>
<path d="M71.2,595 h2.6 v3.6 h4.2 v20.2 h-2.2 v-17.5 h-4.6 z" fill="#f0883c"/>
<path d="M86.5,595 h-2 v3.6 h-4.9 v20.2 h2.2 v-17.5 h4.7 z" fill="#f7c7a6"/>
<rect x="68.8" y="605.8" width="2.5" height="17.2" fill="#1e9a4b"/><rect x="72.3" y="605.8" width="2.7" height="17.2" fill="#1e9a4b"/>
<path d="M375.65,581.00 L383.05,581.00 L383.05,609.60 A21.30,21.30 0 0 0 404.35,630.90 L419.50,630.90 L419.50,625.20 L433.90,634.60 L419.50,644.00 L419.50,638.30 L404.35,638.30 A28.70,28.70 0 0 1 375.65,609.60 Z" fill="none" stroke="#428a68" stroke-width="1.05" stroke-dasharray="3.2 1.7"/>
<path d="M361.30,712.30 L361.30,683.70 A28.60,28.60 0 0 1 389.90,655.10 L405.90,655.10 L405.90,649.90 L419.30,658.70 L405.90,667.50 L405.90,662.30 L389.90,662.30 A21.40,21.40 0 0 0 368.50,683.70 L368.50,712.30 Z" fill="none" stroke="#e0302a" stroke-width="1.05" stroke-dasharray="3.2 1.7"/>
<path d="M351.7,640.4 L414.6,640.4 L414.6,637.4 L428.4,644.8 L414.6,652.3 L414.6,649.3 L351.7,649.3 Z" fill="#fbd36a" stroke="#f3b43a" stroke-width="1.3"/>
<rect x="352.6" y="642.2" width="68" height="3.2" fill="#fde3a0"/>
<line x1="317.3" y1="581.5" x2="357.9" y2="622.4" stroke="#111" stroke-width="1.9"/>
<line x1="351.3" y1="629.6" x2="364.4" y2="616.2" stroke="#111" stroke-width="1.9"/>
<text x="303.70" y="576.02" font-size="8.5" text-anchor="middle" fill="#222" textLength="50" lengthAdjust="spacingAndGlyphs">BAY2402234</text>
<text x="384.30" y="571.80" font-size="9" text-anchor="middle" fill="#222" textLength="66.6" lengthAdjust="spacingAndGlyphs">uridine, cytidine</text>
<text x="331.50" y="640.22" font-size="8.5" text-anchor="middle" fill="#222" textLength="12.5" lengthAdjust="spacingAndGlyphs">Gln</text>
<text x="333.00" y="656.62" font-size="8.5" text-anchor="middle" fill="#222" textLength="14" lengthAdjust="spacingAndGlyphs">Asp</text>
<text x="449.50" y="640.22" font-size="8.5" text-anchor="middle" fill="#222" textLength="15.8" lengthAdjust="spacingAndGlyphs">UTP</text>
<text x="447.70" y="655.92" font-size="8.5" text-anchor="middle" fill="#222" textLength="16" lengthAdjust="spacingAndGlyphs">CTP</text>
<text x="365.10" y="725.92" font-size="8.5" text-anchor="middle" fill="#222" textLength="15.4" lengthAdjust="spacingAndGlyphs">AZA</text>
<rect x="0" y="0" width="520" height="1" fill="#454545"/>
<rect x="0" y="0" width="1" height="735" fill="#4e4e4e"/>
<rect x="519" y="0" width="1" height="735" fill="#3a3a3a"/>
<rect x="0" y="734" width="520" height="1" fill="#2c2c2c"/>
</svg></body></html>
